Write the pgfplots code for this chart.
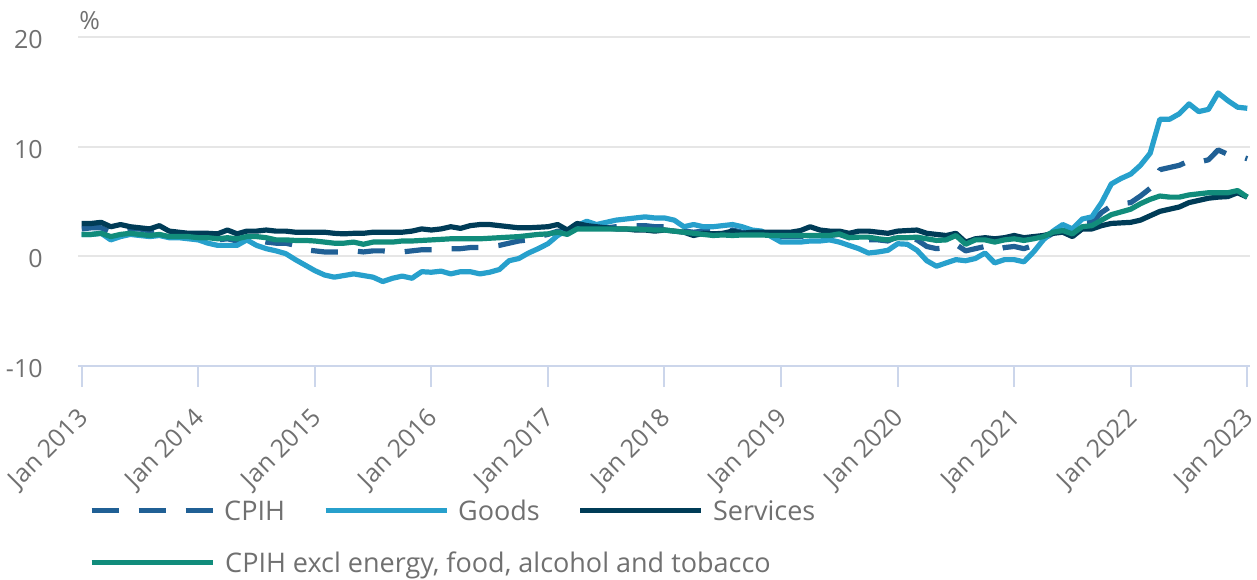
\documentclass[border=0pt]{standalone}
\usepackage{pgfplots}
\pgfplotsset{compat=1.18}
\usepackage{pgfplotstable}
\usepackage{fontspec}
\setmainfont{Open Sans}
\definecolor{cpih}{HTML}{206095}
\definecolor{goods}{HTML}{27A0CC}
\definecolor{serv}{HTML}{003C57}
\definecolor{core}{HTML}{118C7B}
\definecolor{lab}{HTML}{707070}
\definecolor{gridc}{HTML}{E6E6E6}
\definecolor{axc}{HTML}{CCD6EB}

\pgfplotstableread{
m cpih goods serv core
0 2.5 2.0 3.0 2.0
1 2.6 2.0 3.0 2.0
2 2.6 2.1 3.1 2.1
3 2.2 1.5 2.7 1.8
4 2.4 1.8 2.9 2.0
5 2.5 2.0 2.7 2.1
6 2.5 1.9 2.6 2.0
7 2.3 1.8 2.5 1.9
8 2.4 1.9 2.8 2.0
9 2.0 1.7 2.3 1.8
10 1.9 1.7 2.2 1.8
11 1.9 1.6 2.1 1.8
12 1.8 1.5 2.1 1.7
13 1.6 1.2 2.1 1.7
14 1.5 1.0 2.05 1.6
15 1.6 1.0 2.4 1.7
16 1.4 1.0 2.05 1.6
17 1.7 1.5 2.3 1.8
18 1.5 1.0 2.3 1.8
19 1.3 0.7 2.4 1.7
20 1.2 0.5 2.3 1.5
21 1.2 0.25 2.3 1.5
22 1.0 -0.3 2.2 1.45
23 0.6 -0.8 2.2 1.45
24 0.5 -1.3 2.2 1.4
25 0.4 -1.7 2.2 1.3
26 0.4 -1.9 2.1 1.2
27 0.4 -1.75 2.05 1.2
28 0.5 -1.6 2.1 1.3
29 0.4 -1.75 2.1 1.1
30 0.5 -1.9 2.2 1.3
31 0.5 -2.3 2.2 1.3
32 0.4 -2.0 2.2 1.3
33 0.4 -1.8 2.2 1.4
34 0.5 -2.0 2.3 1.4
35 0.6 -1.4 2.5 1.45
36 0.6 -1.45 2.4 1.5
37 0.6 -1.35 2.5 1.55
38 0.7 -1.6 2.7 1.6
39 0.7 -1.4 2.55 1.6
40 0.8 -1.4 2.8 1.6
41 0.8 -1.6 2.9 1.6
42 0.9 -1.45 2.9 1.65
43 1.0 -1.2 2.8 1.7
44 1.2 -0.4 2.7 1.75
45 1.4 -0.2 2.6 1.8
46 1.5 0.3 2.6 1.9
47 1.8 0.7 2.65 2.0
48 2.0 1.15 2.7 2.05
49 2.3 1.9 2.9 2.2
50 2.3 2.4 2.4 2.0
51 2.6 2.8 3.0 2.5
52 2.7 3.2 2.8 2.5
53 2.6 2.9 2.7 2.5
54 2.6 3.1 2.6 2.5
55 2.7 3.3 2.5 2.5
56 2.8 3.4 2.5 2.5
57 2.8 3.5 2.4 2.5
58 2.8 3.6 2.4 2.45
59 2.7 3.5 2.3 2.4
60 2.7 3.5 2.4 2.4
61 2.5 3.3 2.3 2.3
62 2.3 2.7 2.2 2.2
63 2.2 2.9 1.9 2.1
64 2.3 2.7 2.1 2.0
65 2.3 2.7 2.05 1.9
66 2.3 2.8 2.1 1.95
67 2.4 2.9 2.3 1.9
68 2.2 2.7 2.1 1.95
69 2.2 2.4 2.2 1.95
70 2.2 2.3 2.2 1.95
71 2.0 1.8 2.2 1.9
72 1.8 1.3 2.2 1.9
73 1.8 1.3 2.2 1.9
74 1.8 1.3 2.35 1.9
75 2.0 1.4 2.7 1.9
76 1.9 1.4 2.4 1.9
77 1.9 1.5 2.3 1.9
78 2.0 1.3 2.3 2.05
79 1.7 1.0 2.1 1.7
80 1.7 0.7 2.3 1.75
81 1.5 0.3 2.3 1.75
82 1.5 0.4 2.2 1.6
83 1.4 0.55 2.1 1.5
84 1.8 1.15 2.3 1.7
85 1.7 1.1 2.35 1.7
86 1.5 0.55 2.4 1.75
87 0.9 -0.4 2.1 1.6
88 0.7 -0.9 2.0 1.45
89 0.8 -0.6 1.9 1.5
90 1.1 -0.3 2.1 1.9
91 0.5 -0.4 1.3 1.1
92 0.7 -0.2 1.6 1.5
93 0.9 0.3 1.7 1.5
94 0.6 -0.6 1.6 1.3
95 0.8 -0.3 1.7 1.5
96 0.9 -0.3 1.9 1.6
97 0.7 -0.5 1.7 1.45
98 1.0 0.4 1.8 1.6
99 1.6 1.5 1.9 1.8
100 2.1 2.3 2.1 2.2
101 2.4 2.9 2.2 2.35
102 2.1 2.5 1.8 2.05
103 3.0 3.4 2.5 2.7
104 3.1 3.6 2.5 2.8
105 4.0 4.9 2.8 3.3
106 4.6 6.6 3.0 3.8
107 4.8 7.1 3.05 4.05
108 4.9 7.5 3.1 4.3
109 5.5 8.3 3.3 4.8
110 6.2 9.4 3.7 5.2
111 7.9 12.5 4.1 5.5
112 8.1 12.5 4.3 5.4
113 8.3 13.0 4.5 5.4
114 8.7 13.9 4.9 5.6
115 8.6 13.2 5.1 5.7
116 8.8 13.4 5.3 5.8
117 9.7 14.9 5.4 5.8
118 9.3 14.2 5.45 5.8
119 9.2 13.6 5.8 6.0
120 8.9 13.5 5.4 5.4
}\data

\begin{document}
\begin{tikzpicture}
\useasboundingbox (-39pt,-106.5pt) rectangle (589.5pt,183pt);
\begin{axis}[
  scale only axis, width=586pt, height=164.5pt,
  at={(0pt,0pt)}, anchor=south west,
  xmin=-0.38, xmax=120.28, ymin=-10, ymax=20,
  axis x line*=bottom, axis y line*=left,
  y axis line style={draw=none},
  x axis line style={axc, line width=1pt},
  xtick={0,12,...,120},
  xticklabels={Jan 2013,Jan 2014,Jan 2015,Jan 2016,Jan 2017,Jan 2018,Jan 2019,Jan 2020,Jan 2021,Jan 2022,Jan 2023},
  ytick={-10,0,10,20},
  yticklabels={-10,0,10,20},
  tick align=outside,
  major tick length=10.5pt,
  xtick style={axc, line width=1pt},
  ytick style={draw=none},
  ymajorgrids,
  grid style={gridc, line width=1pt},
  yticklabel style={font=\fontsize{12.5}{15}\selectfont, text=lab, anchor=east, inner sep=0pt, xshift=-7pt, yshift=-1.3pt},
  xticklabel style={font=\fontsize{12.5}{15}\selectfont, text=lab, inner sep=0pt, xshift=1.5pt, yshift=-13.5pt, rotate=45, anchor=east},
  legend style={at={(0.0094,-0.4012)}, anchor=north west, draw=none, fill=none, inner sep=0pt, outer sep=0pt,
    font=\fontsize{13.5}{16}\selectfont, text=lab,
    nodes={inner sep=0pt, text height=11pt, text depth=1.5pt}, row sep=13.5pt},
  legend columns=3,
  legend cell align=left,
  /tikz/every odd column/.append style={column sep=4.5pt},
  /tikz/every even column/.append style={column sep=19pt},
  legend image code/.code={\draw[#1] (0pt,0pt) -- (60.5pt,0pt);},
]
\addplot[cpih, line width=2.6pt, dash pattern=on 13.5pt off 10pt, line join=round] table[x=m,y=cpih]{\data};
\addlegendentry{CPIH}
\addplot[goods, line width=2.6pt, line join=round] table[x=m,y=goods]{\data};
\addlegendentry{Goods}
\addplot[serv, line width=2.6pt, line join=round] table[x=m,y=serv]{\data};
\addlegendentry{Services}
\addplot[core, line width=2.6pt, line join=round] table[x=m,y=core]{\data};
\addlegendentry{\rlap{CPIH excl energy, food, alcohol and tobacco}}
\end{axis}
\node[anchor=base west, inner sep=0pt, font=\fontsize{12.5}{15}\selectfont, text=lab] at (0.5pt,168pt) {\%};
\end{tikzpicture}
\end{document}
